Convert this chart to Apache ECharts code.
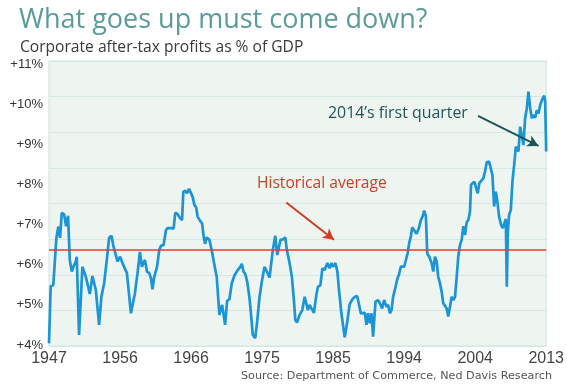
<!DOCTYPE html>
<html><head><meta charset="utf-8">
<script src="https://cdn.jsdelivr.net/npm/echarts@6/dist/echarts.min.js"></script>
<style>html,body{margin:0;padding:0;background:#fff}#c{width:567px;height:390px}</style>
</head><body><div id="c"></div>
<script>
const xTickLabels = ['1947','1956','1966','1975','1985','1994','2004','2013'];
const yTickValues = [4,5,6,7,8,9,10,11];
const years = [1947.00,1947.23,1947.58,1947.77,1947.99,1948.26,1948.49,1948.72,1949.03,1949.30,1949.57,1949.80,1950.07,1950.38,1950.61,1950.74,1951.05,1951.50,1951.96,1952.50,1952.85,1953.31,1953.75,1954.06,1954.43,1954.79,1955.10,1955.42,1955.65,1955.87,1956.23,1956.59,1956.90,1957.13,1957.50,1958.04,1958.58,1958.93,1959.25,1959.52,1959.93,1960.20,1960.51,1960.74,1960.95,1961.18,1961.55,1961.86,1962.09,1962.44,1962.76,1962.98,1963.21,1963.52,1963.79,1964.02,1964.33,1964.66,1964.93,1965.10,1965.37,1965.60,1965.87,1966.05,1966.36,1966.59,1966.82,1967.03,1967.36,1967.63,1967.84,1968.03,1968.25,1968.61,1968.92,1969.29,1969.60,1969.96,1970.33,1970.73,1971.00,1971.31,1971.63,1971.99,1972.22,1972.44,1972.76,1972.98,1973.21,1973.44,1973.71,1974.02,1974.25,1974.46,1974.79,1975.06,1975.37,1975.68,1976.04,1976.35,1976.72,1976.95,1977.16,1977.49,1977.76,1977.97,1978.20,1978.51,1978.84,1979.05,1979.42,1979.73,1980.00,1980.19,1980.41,1980.77,1981.13,1981.45,1981.67,1981.89,1982.12,1982.43,1982.70,1983.03,1983.24,1983.57,1983.84,1984.15,1984.51,1984.82,1985.05,1985.27,1985.59,1985.86,1986.08,1986.40,1986.71,1986.85,1987.16,1987.52,1987.89,1988.20,1988.51,1988.74,1989.01,1989.24,1989.55,1989.78,1990.00,1990.23,1990.46,1990.67,1991.00,1991.35,1991.58,1991.89,1992.16,1992.48,1992.70,1992.93,1993.16,1993.37,1993.70,1993.97,1994.14,1994.41,1994.59,1994.86,1995.05,1995.32,1995.53,1995.76,1995.94,1996.21,1996.53,1996.84,1997.11,1997.34,1997.56,1997.79,1997.97,1998.24,1998.56,1998.78,1999.01,1999.24,1999.45,1999.68,1999.91,2000.13,2000.36,2000.59,2000.80,2001.03,2001.26,2001.48,2001.71,2001.94,2002.15,2002.38,2002.61,2002.83,2003.06,2003.29,2003.50,2003.73,2003.87,2004.10,2004.31,2004.54,2004.77,2004.99,2005.22,2005.53,2005.76,2005.99,2006.30,2006.53,2006.75,2006.98,2007.21,2007.42,2007.65,2007.92,2008.15,2008.37,2008.56,2008.69,2008.83,2009.00,2009.23,2009.45,2009.68,2009.91,2010.12,2010.26,2010.49,2010.72,2010.93,2011.16,2011.39,2011.61,2011.84,2012.07,2012.28,2012.51,2012.74,2012.96,2013.19,2013.42,2013.73,2013.86,2014.00];
const profits = [4.04,5.47,5.49,5.47,6.66,6.95,6.67,7.29,7.26,6.96,7.22,6.12,5.83,5.99,6.08,6.20,4.25,5.95,5.70,5.27,5.72,5.37,4.50,5.20,5.54,6.12,6.67,6.72,6.49,6.45,6.08,6.20,6.04,6.08,5.79,4.79,5.29,5.79,6.32,5.95,6.12,5.83,5.79,5.66,5.39,5.70,5.94,6.37,6.47,6.49,6.86,6.91,6.95,6.91,6.90,7.30,7.26,7.16,7.11,7.82,7.84,7.78,7.89,7.93,7.69,7.49,7.43,7.20,7.09,7.03,6.70,6.52,6.68,6.62,6.37,5.99,5.70,4.75,5.00,4.50,5.10,5.14,5.54,5.73,5.70,5.87,5.94,6.02,5.83,5.77,5.58,5.16,4.71,4.25,4.17,4.60,5.20,5.58,5.95,5.83,5.68,5.72,6.37,6.72,6.24,6.20,6.62,6.63,6.68,6.37,6.04,5.70,5.12,4.62,4.56,4.75,4.87,5.20,5.16,4.87,5.00,4.89,4.80,5.25,5.45,5.49,5.91,5.87,6.04,5.91,6.04,5.95,6.04,5.83,5.37,4.79,4.37,4.19,4.54,5.02,5.14,5.20,5.22,5.04,4.79,4.79,4.80,4.50,4.79,4.54,4.79,4.21,5.08,5.12,5.04,4.91,5.12,4.95,5.00,4.79,4.87,5.20,5.45,5.67,5.74,5.95,5.99,5.95,5.91,6.28,6.53,6.70,6.93,6.86,6.77,6.91,7.11,7.20,7.35,7.20,6.28,6.20,6.04,5.83,6.20,6.08,5.70,5.54,5.33,5.04,5.00,4.91,4.71,4.95,5.20,5.12,5.20,5.70,6.20,6.49,6.62,6.96,6.74,7.06,7.11,7.32,7.99,8.03,8.07,8.11,7.78,8.03,8.07,8.15,8.32,8.55,8.57,8.61,8.24,7.45,7.82,7.57,7.20,6.99,6.91,6.88,7.14,5.45,6.82,7.24,7.36,8.07,8.48,8.94,8.94,8.82,9.44,9.48,8.98,9.65,9.90,10.31,9.90,9.65,9.73,9.66,9.85,9.77,9.98,10.10,10.21,10.06,8.82];
const historicalAverage = 6.38;
const arrowQuarter = [[2004.81, 9.71], [2012.96, 8.96]];
const arrowAverage = [[1978.97, 7.55], [1985.40, 6.62]];

const chart = echarts.init(document.getElementById('c'), null, {renderer: 'canvas'});
const series = years.map((y, i) => [y, profits[i]]);
chart.setOption({
  backgroundColor: '#ffffff',
  animation: false,
  grid: {left: 49, right: 20, top: 61, bottom: 44, show: true, backgroundColor: '#eef5f1', borderColor: '#cfe2df', borderWidth: 1, containLabel: false},
  xAxis: [
    {type: 'category', data: xTickLabels, boundaryGap: false, position: 'bottom',
     axisLine: {show: false}, axisTick: {show: false}, splitLine: {show: false},
     axisLabel: {color: '#444', fontFamily: 'Liberation Sans Narrow, Arial Narrow, Liberation Sans, sans-serif', fontSize: 16, margin: 5}},
    {type: 'value', min: 1947, max: 2014, show: false}
  ],
  yAxis: [
    {type: 'value', min: 3.975, max: 11.075, axisLine: {show: false}, axisTick: {show: false}, splitLine: {show: false},
     axisLabel: {customValues: yTickValues, formatter: v => '+' + v + '%', color: '#333', fontFamily: 'Liberation Sans, Arial, sans-serif', fontSize: 13, margin: 6}},
    {type: 'value', min: 0, max: 8, interval: 1, position: 'right', axisLine: {show: false}, axisTick: {show: false}, axisLabel: {show: false},
     splitLine: {show: true, lineStyle: {color: '#d5e6e3', width: 1}}}
  ],
  series: [{
    type: 'line', xAxisIndex: 1, yAxisIndex: 0, data: series, showSymbol: false, symbol: 'none',
    lineStyle: {color: '#1b95d6', width: 2.7}, z: 3,
    markLine: {
      silent: true, animation: false, symbol: ['none', 'none'], label: {show: false},
      data: [
        [{coord: [1947, historicalAverage]}, {coord: [2014, historicalAverage]}],
      ],
      lineStyle: {color: '#ee3b2b', width: 1.5, type: 'solid'}
    }
  }, {
    type: 'line', xAxisIndex: 1, yAxisIndex: 0, data: [], z: 4,
    markLine: {
      silent: true, animation: false, symbol: ['none', 'arrow'], symbolSize: [9, 11], label: {show: false},
      data: [
        [{coord: arrowQuarter[0], lineStyle: {color: '#1e5656', width: 2, type: 'solid'}}, {coord: arrowQuarter[1]}],
        [{coord: arrowAverage[0], lineStyle: {color: '#d33b24', width: 2, type: 'solid'}}, {coord: arrowAverage[1]}]
      ]
    }
  }],
  graphic: [
    {type: 'text', left: 19, top: 7, style: {text: 'What goes up must come down?', fill: '#5a9b9b', font: '27px "Open Sans", sans-serif'}},
    {type: 'text', left: 20, top: 40, style: {text: 'Corporate after-tax profits as % of GDP', fill: '#3a3a3a', font: '15.6px "Open Sans", sans-serif'}},
    {type: 'text', left: 328, top: 105, style: {text: '2014\u2019s first quarter', fill: '#1e5656', font: '15.9px "Open Sans", sans-serif'}},
    {type: 'text', left: 257, top: 176, style: {text: 'Historical average', fill: '#d33b24', font: '15.6px "Open Sans", sans-serif'}},
    {type: 'text', right: 15, top: 371, style: {text: 'Source: Department of Commerce, Ned Davis Research', fill: '#555', font: '11.2px "DejaVu Sans", sans-serif'}}
  ]
});
</script></body></html>
